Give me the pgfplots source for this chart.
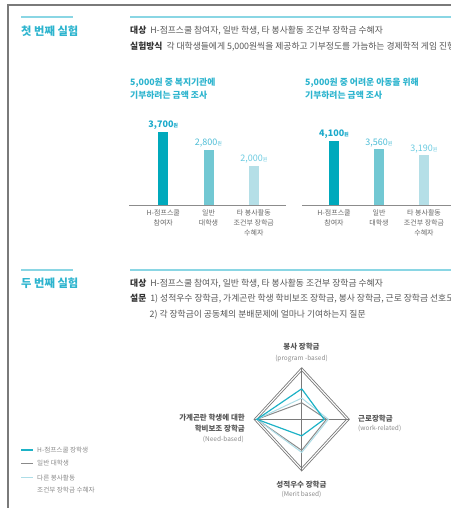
\documentclass[border=0pt]{standalone}
\usepackage{pgfplots}
\pgfplotsset{compat=1.18}
\usepackage{fontspec}
\setmainfont{Noto Sans CJK KR}
\definecolor{framegray}{HTML}{7A7A7A}
\definecolor{linecyan}{HTML}{8AD6E4}
\definecolor{titlecyan}{HTML}{2DB4CE}
\definecolor{bodytext}{HTML}{555555}
\definecolor{boldtext}{HTML}{333333}
\definecolor{barA}{HTML}{00A9BC}
\definecolor{barB}{HTML}{72C8D3}
\definecolor{barC}{HTML}{B5DFE7}
\definecolor{labA}{HTML}{1BAACB}
\definecolor{labB}{HTML}{4BBCD5}
\definecolor{labC}{HTML}{6ACAE0}
\definecolor{basegray}{HTML}{8C8C8C}
\definecolor{catgray}{HTML}{666666}
\definecolor{gridgray}{HTML}{7A7A7A}
\definecolor{radA}{HTML}{1DB2C6}
\definecolor{radB}{HTML}{8A8A8A}
\definecolor{radC}{HTML}{ADDDE7}
\definecolor{radlab}{HTML}{555555}
\definecolor{radsub}{HTML}{8A8A8A}
\newcommand{\fs}[2]{\fontsize{#1bp}{#2bp}\selectfont}

\pgfplotsset{
  barchart/.style={
    scale only axis, clip=false,
    ymin=0, ymax=5000,
    axis x line*=bottom, axis y line=none,
    x axis line style={basegray, line width=0.9bp, -},
    xtick={0,1,2}, major tick length=0pt,
    xticklabels={{H-점프스쿨\\참여자},{일반\\대학생},{타 봉사활동\\조건부 장학금\\수혜자}},
    xticklabel style={align=center, font=\fs{7}{10}, text=catgray, yshift=-1bp},
    ybar, bar width=10bp, bar shift=0pt,
    /pgf/number format/.cd, 1000 sep={,}, assume math mode=true,
  },
  vlab/.style={nodes near coords={#1\pgfmathprintnumber{\pgfplotspointmeta}{\fs{5}{5}원}},
    nodes near coords style={inner sep=2bp}},
}

\begin{document}
\begin{tikzpicture}[x=1bp,y=-1bp]
\useasboundingbox (0,0) rectangle (451,508);
% frame
\draw[framegray, line width=1.3bp] (8,508) -- (8,5) -- (451,5);
% ===== section 1
\draw[linecyan, line width=1.3bp] (21,17) -- (73,17);
\draw[linecyan, line width=1.3bp] (130,17) -- (451,17);
\node[anchor=west, inner sep=0, text=titlecyan] at (21,31) {\fs{11.3}{12}\bfseries 첫 번째 실험};
\node[anchor=west, inner sep=0, text=bodytext] at (130,31) {\fs{8.8}{10}{\bfseries\color{boldtext}대상}\ \ H-점프스쿨 참여자, 일반 학생, 타 봉사활동 조건부 장학금 수혜자};
\node[anchor=west, inner sep=0, text=bodytext] at (130,46.5) {\fs{8.8}{10}{\bfseries\color{boldtext}실험방식}\ \ 각 대학생들에게 5,000원씩을 제공하고 기부정도를 가늠하는 경제학적 게임 진행};
% chart titles
\node[anchor=west, inner sep=0, text=titlecyan] at (130,82.5) {\fs{8.8}{10}\bfseries 5,000원 중 복지기관에};
\node[anchor=west, inner sep=0, text=titlecyan] at (130,95.5) {\fs{8.8}{10}\bfseries 기부하려는 금액 조사};
\node[anchor=west, inner sep=0, text=titlecyan] at (305,82.5) {\fs{8.8}{10}\bfseries 5,000원 중 어려운 아동을 위해};
\node[anchor=west, inner sep=0, text=titlecyan] at (305,95.5) {\fs{8.8}{10}\bfseries 기부하려는 금액 조사};

% bar chart 1
\begin{axis}[barchart, at={(129bp,-205bp)}, anchor=south west, width=157bp, height=98.5bp,
  xmin=-0.756, xmax=2.711]
\addplot[fill=barA, draw=none, vlab={\fs{9}{9}\bfseries}, nodes near coords style={text=labA}] coordinates {(0,3700)};
\addplot[fill=barB, draw=none, vlab={\fs{9}{9}}, nodes near coords style={text=labB}] coordinates {(1,2800)};
\addplot[fill=barC, draw=none, vlab={\fs{9}{9}}, nodes near coords style={text=labC}] coordinates {(2,2000)};
\end{axis}

% bar chart 2
\begin{axis}[barchart, at={(302bp,-205bp)}, anchor=south west, width=149bp, height=78.5bp,
  xmin=-0.711, xmax=2.6]
\addplot[fill=barA, draw=none, vlab={\fs{9}{9}\bfseries}, nodes near coords style={text=labA}] coordinates {(0,4100)};
\addplot[fill=barB, draw=none, vlab={\fs{9}{9}}, nodes near coords style={text=labB}] coordinates {(1,3560)};
\addplot[fill=barC, draw=none, vlab={\fs{9}{9}}, nodes near coords style={text=labC}] coordinates {(2,3190)};
\end{axis}

% ===== section 2
\draw[linecyan, line width=1.3bp] (21,270) -- (73,270);
\draw[linecyan, line width=1.3bp] (130,270) -- (451,270);
\node[anchor=west, inner sep=0, text=titlecyan] at (21,283.5) {\fs{11.3}{12}\bfseries 두 번째 실험};
\node[anchor=west, inner sep=0, text=bodytext] at (130,283.5) {\fs{8.8}{10}{\bfseries\color{boldtext}대상}\ \ H-점프스쿨 참여자, 일반 학생, 타 봉사활동 조건부 장학금 수혜자};
\node[anchor=west, inner sep=0, text=bodytext] at (130,299) {\fs{8.8}{10}{\bfseries\color{boldtext}설문}\ \ 1) 성적우수 장학금, 가계곤란 학생 학비보조 장학금, 봉사 장학금, 근로 장학금 선호도 조사};
\node[anchor=west, inner sep=0, text=bodytext] at (149.5,314.5) {\fs{8.8}{10}2) 각 장학금이 공동체의 분배문제에 얼마나 기여하는지 질문};

% radar chart
\begin{axis}[at={(301.7bp,-419.3bp)}, anchor=center, scale only axis,
  width=95.4bp, height=103.4bp, xmin=-1, xmax=1, ymin=-1, ymax=1,
  hide axis, clip=false]
\addplot[gridgray, line width=0.7bp] coordinates {(0,1) (1,0) (0,-1) (-1,0) (0,1)};
\addplot[gridgray, line width=0.7bp] coordinates {(0,0.94) (0.94,0) (0,-0.94) (-0.94,0) (0,0.94)};
\addplot[gridgray, line width=0.7bp] coordinates {(-1,0) (1,0)};
\addplot[gridgray, line width=0.7bp] coordinates {(0,-1) (0,1)};
\addplot[radB, line width=1bp, data cs=polar] coordinates {(90,0.32) (0,0.52) (270,0.60) (180,0.94) (90,0.32)};
\addplot[radC, line width=1bp, data cs=polar] coordinates {(90,0.41) (0,0.56) (270,0.64) (180,0.94) (90,0.41)};
\addplot[radA, line width=1.2bp, data cs=polar] coordinates {(90,0.59) (0,0.47) (270,0.32) (180,0.94) (90,0.59)};
\end{axis}
% radar labels
\node[inner sep=0, text=radlab] at (301.5,347) {\fs{7.5}{9}\bfseries 봉사 장학금};
\node[inner sep=0, text=radsub] at (301.5,358.5) {\fs{6.5}{8}(program -based)};
\node[anchor=west, inner sep=0, text=radlab] at (358,418.5) {\fs{7.5}{9}\bfseries 근로장학금};
\node[anchor=west, inner sep=0, text=radsub] at (358,428.5) {\fs{6.5}{8}(work-related)};
\node[anchor=east, inner sep=0, text=radlab] at (245,418) {\fs{7.5}{9}\bfseries 가계곤란 학생에 대한};
\node[anchor=east, inner sep=0, text=radlab] at (245,429) {\fs{7.5}{9}\bfseries 학비보조 장학금};
\node[anchor=east, inner sep=0, text=radsub] at (244,439.5) {\fs{6.5}{8}(Need-based)};
\node[inner sep=0, text=radlab] at (301.5,484.5) {\fs{7.5}{9}\bfseries 성적우수 장학금};
\node[inner sep=0, text=radsub] at (301.5,494.5) {\fs{6.5}{8}(Merit based)};

% legend
\draw[radA, line width=1.3bp] (21,450) -- (33,450);
\draw[radB, line width=1bp] (21,463.5) -- (33,463.5);
\draw[radC, line width=1bp] (21,477.5) -- (33,477.5);
\node[anchor=west, inner sep=0, text=radsub] at (37,450) {\fs{6.6}{8}H-점프스쿨 장학생};
\node[anchor=west, inner sep=0, text=radsub] at (37,463.5) {\fs{6.6}{8}일반 대학생};
\node[anchor=west, inner sep=0, text=radsub] at (37,477.5) {\fs{6.6}{8}다른 봉사활동};
\node[anchor=west, inner sep=0, text=radsub] at (37,490) {\fs{6.6}{8}조건부 장학금 수혜자};
\end{tikzpicture}
\end{document}
